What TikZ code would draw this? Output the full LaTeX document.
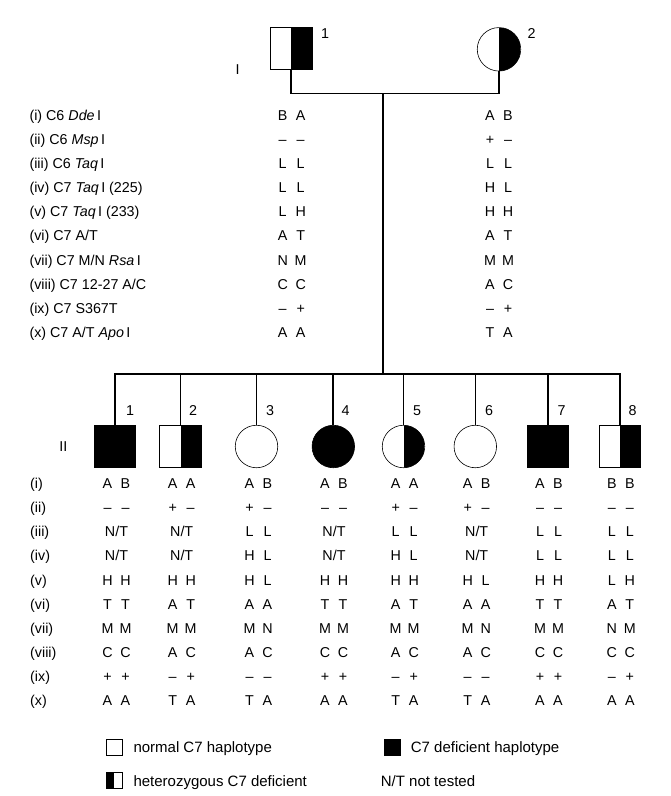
\documentclass[tikz,border=0pt]{standalone}
\usepackage{fontspec}
\setmainfont{Liberation Sans}
\newcommand\crow[2]{%
  \foreach \x/\a/\b [count=\c] in {#2} {%
    \node[gt] (g#1l\c) at ({\x-9},{488.6+24.13*(#1-1)}) {\a};
    \node[gt] (g#1r\c) at ({\x+9},{488.6+24.13*(#1-1)}) {\b};
  }}
\begin{document}
\begin{tikzpicture}[x=1pt,y=-1pt,
  ped/.style={line width=1.8pt},
  pedthin/.style={line width=1.3pt},
  sym/.style={draw, line width=0.6pt, inner sep=0pt},
  male/.style={sym, rectangle, minimum size=41.5pt},
  female/.style={sym, circle, minimum size=42.5pt},
  aff/.style={fill=black},
  het/.style={path picture={\fill[black] (path picture bounding box.north) rectangle (path picture bounding box.south east);}},
  gt/.style={inner sep=0pt, anchor=base, font=\fontsize{14.3}{17}\selectfont},
  lab/.style={gt, anchor=base west},
  leg/.style={inner sep=0pt, anchor=base west, font=\fontsize{15}{18}\selectfont},
  lbox/.style={draw, line width=0.6pt, inner sep=0pt, minimum width=16.5pt, minimum height=16pt}]
\useasboundingbox (0,0) rectangle (671,796);

% generation I
\node[male, het, minimum size=42pt] (f) at (290.9,48.3) {};
\node[female, het, minimum size=43.5pt] (mo) at (499,49.3) {};
\node[gt] (fn) at (325,38.4) {1};
\node[gt] (mn) at (531.7,38.4) {2};
\node[gt] (gI) at (237.5,74) {I};

\coordinate (mar) at (382.7,93.5);
\coordinate (sib) at (382.7,374.3);
\draw[ped] (f.south) |- (mar) -| (mo.south);
\draw[ped] (mar) -- (sib);

% parent table
\foreach \t [count=\k from 0] in {(i) C6 \textit{Dde}\,I, (ii) C6 \textit{Msp}\,I, (iii) C6 \textit{Taq}\,I, (iv) C7 \textit{Taq}\,I (225), (v) C7 \textit{Taq}\,I (233), (vi) C7 A/T, (vii) C7 M/N \textit{Rsa}\,I, (viii) C7 12-27 A/C, (ix) C7 S367T, (x) C7 A/T \textit{Apo}\,I}
  \node[lab] (pl\k) at (29.3,{120.1+24.15*\k}) {\t};
\foreach \a/\b [count=\k from 0] in {B/A, –/–, L/L, L/L, L/H, A/T, N/M, C/C, –/+, A/A} {
  \node[gt] (fal\k) at (282.7,{120.1+24.15*\k}) {\a};
  \node[gt] (far\k) at (300.7,{120.1+24.15*\k}) {\b};
}
\foreach \a/\b [count=\k from 0] in {A/B, +/–, L/L, H/L, H/H, A/T, M/M, A/C, –/+, T/A} {
  \node[gt] (mal\k) at (490,{120.1+24.15*\k}) {\a};
  \node[gt] (mar\k) at (508,{120.1+24.15*\k}) {\b};
}

% generation II
\node[male, aff] (c1) at (114.7,446.5) {};
\node[male, het] (c2) at (180.5,446.5) {};
\node[female] (c3) at (256.5,446.5) {};
\node[female, aff] (c4) at (333.3,446.5) {};
\node[female, het] (c5) at (403.5,446.5) {};
\node[female] (c6) at (475.3,446.5) {};
\node[male, aff] (c7) at (547.7,446.5) {};
\node[male, het] (c8) at (619.8,446.5) {};
\draw[ped] (c1.north) |- (sib) -| (c8.north);
\foreach \i in {4,7} \draw[ped] (c\i.north) -- (c\i.north |- sib);
\foreach \i in {2,3,5,6} \draw[pedthin] (c\i.north) -- (c\i.north |- sib);
\foreach \x [count=\i] in {130,193,270,345.7,417,489,561.7,632.7}
  \node[gt] (n\i) at (\x,415) {\i};
\node[gt] (gII) at (63.3,451) {II};

% children table
\foreach \t [count=\k from 0] in {(i),(ii),(iii),(iv),(v),(vi),(vii),(viii),(ix),(x)}
  \node[lab] (cl\k) at (30,{488.6+24.13*\k}) {\t};
\crow{1}{116.5/A/B,181.7/A/A,258.5/A/B,334/A/B,404.7/A/A,476.7/A/B,549/A/B,620.8/B/B}
\crow{2}{116.5/–/–,181.7/+/–,258.5/+/–,334/–/–,404.7/+/–,476.7/+/–,549/–/–,620.8/–/–}
\crow{3}{258.5/L/L,404.7/L/L,549/L/L,620.8/L/L}
\crow{4}{258.5/H/L,404.7/H/L,549/L/L,620.8/L/L}
\foreach \x [count=\i] in {116.5,181.7,334,476.7} {
  \node[gt] (nt3\i) at (\x,{488.6+24.13*2}) {N/T};
  \node[gt] (nt4\i) at (\x,{488.6+24.13*3}) {N/T};
}
\crow{5}{116.5/H/H,181.7/H/H,258.5/H/L,334/H/H,404.7/H/H,476.7/H/L,549/H/H,620.8/L/H}
\crow{6}{116.5/T/T,181.7/A/T,258.5/A/A,334/T/T,404.7/A/T,476.7/A/A,549/T/T,620.8/A/T}
\crow{7}{116.5/M/M,181.7/M/M,258.5/M/N,334/M/M,404.7/M/M,476.7/M/N,549/M/M,620.8/N/M}
\crow{8}{116.5/C/C,181.7/A/C,258.5/A/C,334/C/C,404.7/A/C,476.7/A/C,549/C/C,620.8/C/C}
\crow{9}{116.5/+/+,181.7/–/+,258.5/–/–,334/+/+,404.7/–/+,476.7/–/–,549/+/+,620.8/–/+}
\crow{10}{116.5/A/A,181.7/T/A,258.5/T/A,334/A/A,404.7/T/A,476.7/T/A,549/A/A,620.8/A/A}

% legend
\node[lbox] (ln) at (114.3,747) {};
\node[leg] (lnt) at (133.3,752.2) {normal C7 haplotype};
\node[lbox, fill=black] (ld) at (392.3,747) {};
\node[leg] (ldt) at (410.7,752.2) {C7 deficient haplotype};
\node[lbox, path picture={\fill[black] (path picture bounding box.south west) rectangle (path picture bounding box.north);}] (lh) at (114.3,780.5) {};
\node[leg] (lht) at (133.3,786) {heterozygous C7 deficient};
\node[leg] (lntt) at (380.7,786) {N/T not tested};
\end{tikzpicture}
\end{document}
